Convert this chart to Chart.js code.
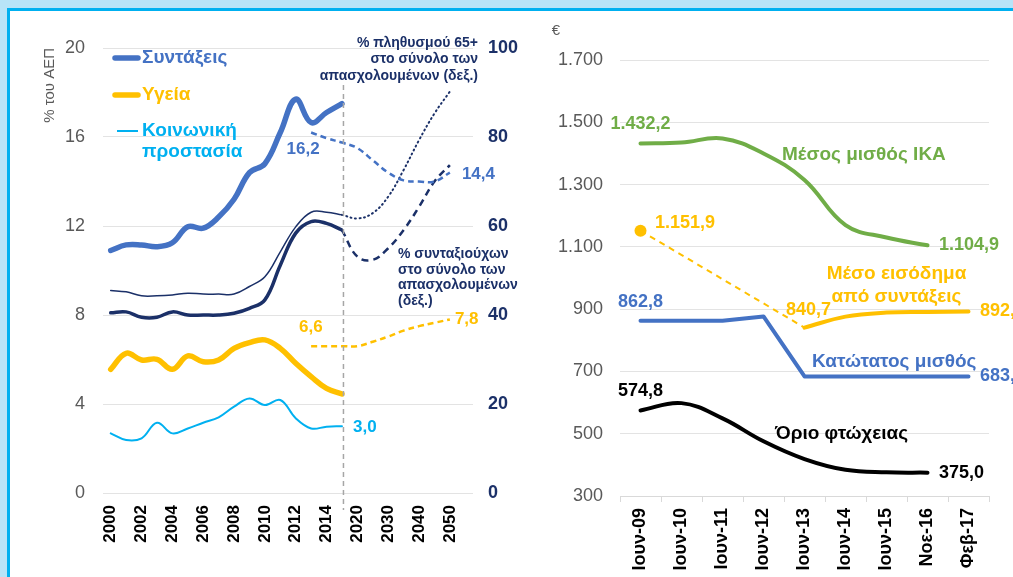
<!DOCTYPE html>
<html lang="el">
<head>
<meta charset="UTF-8">
<title>Δαπάνες και εισοδήματα</title>
<script src="https://cdn.jsdelivr.net/npm/chart.js@4.4.1/dist/chart.umd.min.js"></script>
<style>
    * { margin: 0; padding: 0; box-sizing: border-box; }
    body {
        width: 1013px;
        height: 577px;
        overflow: hidden;
        position: relative;
        background: #b8e4f8;
        font-family: 'Liberation Sans', Arial, sans-serif;
    }
    .frame {
        position: absolute;
        left: 7px; top: 8px; right: -10px; bottom: -10px;
        background: #fff;
        border: 3px solid #00b0f0;
    }
    .panel { position: absolute; }
    #leftPanel { left: 10px; top: 11px; width: 510px; height: 566px; }
    #rightPanel { left: 520px; top: 11px; width: 493px; height: 566px; }
</style>
</head>
<body>
<div class="frame"></div>
<div class="panel" id="leftPanel"><canvas id="spendChart"></canvas></div>
<div class="panel" id="rightPanel"><canvas id="incomeChart"></canvas></div>

<script>
// ---- left panel: % of GDP (left axis) and % of employed (right axis)
const years = ['2000', '2001', '2002', '2003', '2004', '2005', '2006', '2007', '2008', '2009',
               '2010', '2011', '2012', '2013', '2014', '2015', '2020', '2025', '2030', '2035',
               '2040', '2045', '2050', ''];
const pensions = [10.9, 11.15, 11.15, 11.07, 11.25, 11.97, 11.9, 12.4, 13.2, 14.4, 14.8, 16.2, 17.7, 16.65, 17.1, 17.5];
const pensionsProj = [16.2, 15.95, 15.75, 15.5, 14.95, 14.4, 14.05, 14.0, 14.0, 14.4];     // from 2013
const health = [5.56, 6.28, 5.98, 6.01, 5.56, 6.16, 5.9, 5.98, 6.5, 6.76, 6.88, 6.5, 5.83, 5.23, 4.7, 4.45];
const healthProj = [6.6, 6.6, 6.6, 6.6, 6.8, 7.03, 7.3, 7.5, 7.65, 7.8];                     // from 2013
const social = [2.68, 2.38, 2.46, 3.16, 2.68, 2.9, 3.16, 3.4, 3.88, 4.25, 3.95, 4.18, 3.36, 2.9, 2.98, 3.0];
const pop65 = [45.5, 45.2, 44.3, 44.3, 44.5, 44.9, 44.7, 44.7, 44.7, 46.4, 48.6, 54.2, 59.8, 63.1, 63.1, 62.5];
const pop65Proj = [62.5, 61.7, 62.9, 66.6, 72.6, 79.3, 85.3, 90.2];                          // from 2015
const pensioners = [40.5, 40.7, 39.5, 39.5, 40.7, 40.0, 40.0, 40.0, 40.4, 41.5, 43.4, 51.2, 58.4, 61.0, 60.6, 59.1];
const pensionersProj = [59.1, 53.1, 52.4, 55.0, 59.1, 64.3, 70.0, 73.7];                     // from 2015

// ---- right panel: euros per month
const months = ['Ιουν-09', 'Ιουν-10', 'Ιουν-11', 'Ιουν-12', 'Ιουν-13', 'Ιουν-14', 'Ιουν-15', 'Νοε-16', 'Φεβ-17'];
const ikaWage = [1432.2, 1435, 1448, 1400, 1315, 1170, 1130, 1104.9, null];
const pensionIncome = [null, null, null, null, 840.7, 876, 889, 891, 892.4];
const pensionIncomeStart = [1151.9, null, null, null, 840.7, null, null, null, null];
const minWage = [862.8, 862.8, 862.8, 876.6, 683.8, 683.8, 683.8, 683.8, 683.8];
const poverty = [574.8, 598.2, 549.3, 475.7, 418.6, 384.0, 376.0, 375.0, null];

const FONT = "'Liberation Sans', Arial, sans-serif";
const BLUE = '#4472C4', YELLOW = '#FFC000', CYAN = '#00B0F0', NAVY = '#1b3068', GREEN = '#70AD47', GREY = '#595959';

function place(values, start, len) {
    const out = new Array(len).fill(null);
    values.forEach((v, i) => { out[start + i] = v; });
    return out;
}

function fmt(v) {
    const [i, d] = v.toFixed(1).split('.');
    return i.replace(/\B(?=(\d{3})+(?!\d))/g, '.') + ',' + d;
}

// text notes, legend samples and guide lines drawn over the datasets
function notes(lines, items) {
    return {
        id: 'notes',
        afterDatasetsDraw(chart) {
            const ctx = chart.ctx;
            ctx.save();
            lines.forEach(l => {
                ctx.beginPath();
                ctx.strokeStyle = l.color;
                ctx.lineWidth = l.width;
                ctx.lineCap = l.cap || 'butt';
                ctx.setLineDash(l.dash || []);
                let x0 = l.x0, x1 = l.x1;
                if (l.atX !== undefined) {
                    x0 = x1 = chart.scales.x.getPixelForValue(l.atX) + (l.dx || 0);
                }
                ctx.moveTo(x0, l.y0);
                ctx.lineTo(x1, l.y1);
                ctx.stroke();
            });
            ctx.setLineDash([]);
            items.forEach(it => {
                let x = it.x, y = it.y;
                if (it.at) {
                    x = chart.scales.x.getPixelForValue(it.at[0]) + (it.dx || 0);
                    y = chart.scales[it.axis || 'y'].getPixelForValue(it.at[1]) + (it.dy || 0);
                }
                ctx.font = (it.weight || 'bold') + ' ' + it.size + 'px ' + FONT;
                ctx.fillStyle = it.color;
                ctx.textAlign = it.align || 'left';
                ctx.textBaseline = 'middle';
                it.text.split('\n').forEach((t, k) => ctx.fillText(t, x, y + k * (it.lh || 0)));
            });
            ctx.restore();
        }
    };
}

function line(data, color, width, extra) {
    return Object.assign({
        data: data,
        borderColor: color,
        borderWidth: width,
        pointRadius: 0,
        tension: 0.4,
        fill: false,
        borderCapStyle: 'round'
    }, extra || {});
}

const N = years.length;

new Chart(document.getElementById('spendChart'), {
    type: 'line',
    data: {
        labels: years,
        datasets: [
            line(place(pensions, 0, N), BLUE, 5.5),
            line(place(pensionsProj, 13, N), BLUE, 2.5, { borderDash: [6, 4], borderCapStyle: 'butt' }),
            line(place(health, 0, N), YELLOW, 5.5),
            line(place(healthProj, 13, N), YELLOW, 2.5, { borderDash: [6, 4], borderCapStyle: 'butt' }),
            line(place(social, 0, N), CYAN, 2),
            line(place(pop65, 0, N), NAVY, 1.5, { yAxisID: 'y1' }),
            line(place(pop65Proj, 15, N), NAVY, 2, { yAxisID: 'y1', borderDash: [1, 3.5] }),
            line(place(pensioners, 0, N), NAVY, 3.5, { yAxisID: 'y1' }),
            line(place(pensionersProj, 15, N), NAVY, 2.5, { yAxisID: 'y1', borderDash: [7, 5], borderCapStyle: 'butt' })
        ]
    },
    options: {
        responsive: true,
        maintainAspectRatio: false,
        animation: false,
        devicePixelRatio: 1,
        layout: { padding: { top: 37, left: 0, right: 0, bottom: 0 } },
        plugins: { legend: { display: false }, tooltip: { enabled: false } },
        scales: {
            x: {
                type: 'category',
                offset: true,
                grid: { display: false, drawTicks: false },
                border: { display: false },
                ticks: {
                    autoSkip: false, minRotation: 90, maxRotation: 90, padding: 12, color: '#000',
                    font: { family: FONT, size: 17, weight: 'bold' },
                    callback: (v, i) => (i % 2 === 0 ? years[i] : '')
                },
                afterFit: s => { s.height = 84; }
            },
            y: {
                position: 'left', min: 0, max: 20,
                ticks: { stepSize: 4, padding: 18, color: GREY, font: { family: FONT, size: 18 } },
                grid: { color: '#e3e3e3', drawTicks: false },
                border: { display: false },
                title: { display: true, text: '% του ΑΕΠ', align: 'end', color: GREY, font: { family: FONT, size: 15 }, padding: { top: 31, bottom: 0 } },
                afterFit: s => { s.width = 93; }
            },
            y1: {
                position: 'right', min: 0, max: 100,
                ticks: { stepSize: 20, padding: 15, color: NAVY, font: { family: FONT, size: 18, weight: 'bold' } },
                grid: { display: false, drawTicks: false },
                border: { display: false },
                afterFit: s => { s.width = 47; }
            }
        }
    },
    plugins: [notes(
        [
            { atX: 15, dx: 1.5, y0: 74, y1: 499, color: '#a6a6a6', width: 1.5, dash: [5, 4] },
            { x0: 105, x1: 128, y0: 47, y1: 47, color: BLUE, width: 5.5, cap: 'round' },
            { x0: 105, x1: 128, y0: 84, y1: 84, color: YELLOW, width: 5.5, cap: 'round' },
            { x0: 107, x1: 128, y0: 120, y1: 120, color: CYAN, width: 2 }
        ],
        [
            { text: 'Συντάξεις', x: 132, y: 47, size: 19, color: BLUE },
            { text: 'Υγεία', x: 132, y: 84, size: 19, color: YELLOW },
            { text: 'Κοινωνική\nπροστασία', x: 132, y: 120, lh: 21, size: 19, color: CYAN },
            { text: '% πληθυσμού 65+\nστο σύνολο των\nαπασχολουμένων (δεξ.)', x: 468, y: 32, lh: 16.5, size: 14, color: NAVY, align: 'right' },
            { text: '% συνταξιούχων\nστο σύνολο των\nαπασχολουμένων\n(δεξ.)', x: 388, y: 243, lh: 15.8, size: 14, color: NAVY },
            { text: fmt(pensionsProj[0]), at: [13, pensionsProj[0]], dx: 8.5, dy: 17, size: 17, color: BLUE, align: 'right' },
            { text: fmt(pensionsProj[9]), at: [22, pensionsProj[9]], dx: 12, dy: 2, size: 17, color: BLUE },
            { text: fmt(healthProj[0]), at: [13, healthProj[0]], dx: 11.5, dy: -19, size: 17, color: YELLOW, align: 'right' },
            { text: fmt(healthProj[9]), at: [22, healthProj[9]], dx: 5, dy: 0, size: 17, color: YELLOW },
            { text: fmt(social[15]), at: [15, social[15]], dx: 11, dy: 1.5, size: 17, color: CYAN }
        ]
    )]
});

new Chart(document.getElementById('incomeChart'), {
    type: 'line',
    data: {
        labels: months,
        datasets: [
            line(ikaWage, GREEN, 4),
            line(pensionIncome, YELLOW, 4),
            line(pensionIncomeStart, YELLOW, 2, {
                borderDash: [6, 5], spanGaps: true, tension: 0, borderCapStyle: 'butt',
                pointRadius: c => (c.dataIndex === 0 ? 6 : 0), pointBackgroundColor: YELLOW, pointBorderWidth: 0
            }),
            line(minWage, BLUE, 4, { tension: 0, borderJoinStyle: 'round' }),
            line(poverty, '#000', 4)
        ]
    },
    options: {
        responsive: true,
        maintainAspectRatio: false,
        animation: false,
        devicePixelRatio: 1,
        layout: { padding: { top: 49, left: 0, right: 24, bottom: 0 } },
        plugins: { legend: { display: false }, tooltip: { enabled: false } },
        scales: {
            x: {
                type: 'category',
                offset: true,
                grid: { offset: true, drawOnChartArea: false, drawTicks: true, tickLength: 6, color: '#d9d9d9' },
                border: { display: true, color: '#d9d9d9' },
                ticks: {
                    autoSkip: false, minRotation: 90, maxRotation: 90, padding: 6, color: '#000',
                    font: { family: FONT, size: 18, weight: 'bold' }
                },
                afterFit: s => { s.height = 81; }
            },
            y: {
                position: 'left', min: 300, max: 1700,
                ticks: {
                    stepSize: 200, padding: 17, color: GREY, font: { family: FONT, size: 18 },
                    callback: v => v.toLocaleString('de-DE')
                },
                grid: { color: '#e3e3e3', drawTicks: false },
                border: { display: false },
                afterFit: s => { s.width = 100; }
            }
        }
    },
    plugins: [notes([], [
        { text: '€', x: 36, y: 20, size: 15, weight: 'normal', color: GREY, align: 'center' },
        { text: fmt(ikaWage[0]), at: [0, ikaWage[0]], dx: 0, dy: -19, size: 18, color: GREEN, align: 'center' },
        { text: 'Μέσος μισθός ΙΚΑ', x: 262, y: 144, size: 19, color: GREEN },
        { text: fmt(ikaWage[7]), at: [7, ikaWage[7]], dx: 11.5, dy: 0, size: 18, color: GREEN },
        { text: fmt(pensionIncomeStart[0]), at: [0, pensionIncomeStart[0]], dx: 14.5, dy: -8, size: 18, color: YELLOW },
        { text: 'Μέσο εισόδημα\nαπό συντάξεις', x: 376.5, y: 263, lh: 22.7, size: 19, color: YELLOW, align: 'center' },
        { text: fmt(pensionIncome[4]), at: [4, pensionIncome[4]], dx: 4, dy: -18, size: 18, color: YELLOW, align: 'center' },
        { text: fmt(pensionIncome[8]), at: [8, pensionIncome[8]], dx: 11.5, dy: 0, size: 18, color: YELLOW },
        { text: fmt(minWage[0]), at: [0, minWage[0]], dx: 0, dy: -19, size: 18, color: BLUE, align: 'center' },
        { text: 'Κατώτατος μισθός', x: 292, y: 350.7, size: 19, color: BLUE },
        { text: fmt(minWage[8]), at: [8, minWage[8]], dx: 11.5, dy: 0, size: 18, color: BLUE },
        { text: fmt(poverty[0]), at: [0, poverty[0]], dx: 0, dy: -19, size: 18, color: '#000', align: 'center' },
        { text: 'Όριο φτώχειας', x: 255, y: 422.5, size: 19, color: '#000' },
        { text: fmt(poverty[7]), at: [7, poverty[7]], dx: 11.5, dy: 0, size: 18, color: '#000' }
    ])]
});
</script>
</body>
</html>
